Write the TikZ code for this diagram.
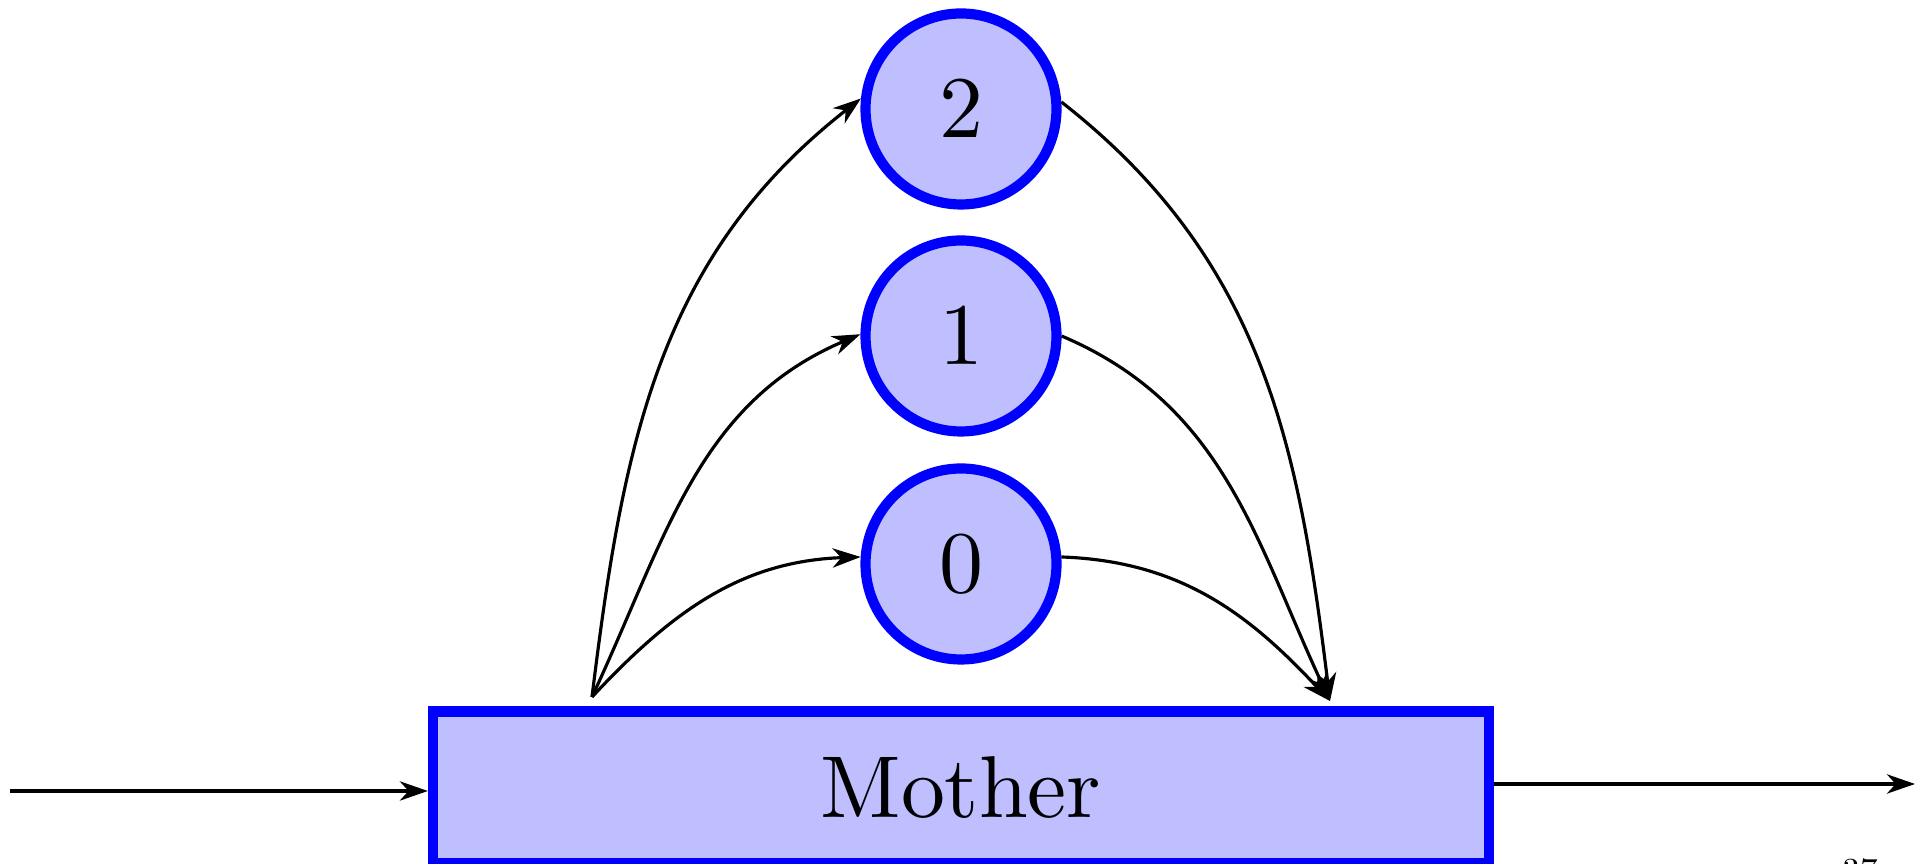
\documentclass[tikz,border=0pt]{standalone}
\usepackage{amsmath}
\usepackage{amssymb}
\usetikzlibrary{arrows.meta}
\font\bigrm=cmr10 at 25pt

\begin{document}
\begin{tikzpicture}[
        state/.style={circle, draw=blue, fill=blue!25, line width=2.9pt, minimum size=1.91cm, inner sep=0pt, font=\bigrm},
        motherbox/.style={rectangle, draw=blue, fill=blue!25, line width=2.9pt, minimum width=10.56cm, minimum height=1.52cm, inner sep=0pt, font=\bigrm},
        flow/.style={-{Stealth[length=8pt,width=5.5pt,inset=2.5pt]}, line width=0.9pt}
    ]
        \useasboundingbox (0,0) rectangle (19.25,8.64);
        \node[motherbox] (mother) at (9.61,0.765) {Mother};
        \node[state] (zero) at (9.61,3.00) {0};
        \node[state] (one) at (9.61,5.28) {1};
        \node[state] (two) at (9.61,7.55) {2};
        \coordinate (src) at (0.10,0.73);
        \coordinate (sink) at (19.15,0.80);
        \coordinate (fork) at (5.92,1.67);
        \coordinate (join) at (13.30,1.63);
        \draw[flow] (src) -- (src -| mother.west);
        \draw[flow] (sink -| mother.east) -- (sink);
        \draw[flow] (fork) to[out=83,in=218] (two.174);
        \draw[flow] (fork) to[out=65,in=203] (one.179);
        \draw[flow] (fork) to[out=47,in=182] (zero.176);
        \draw[flow] (two.4) to[out=-38,in=97] (join);
        \draw[flow] (one.0) to[out=-23,in=115] (join);
        \draw[flow] (zero.4) to[out=-2,in=133] (join);
        \node[anchor=north, inner sep=0pt, font=\normalsize] (page) at (18.60,0.06) {37};
    \end{tikzpicture}
\end{document}
